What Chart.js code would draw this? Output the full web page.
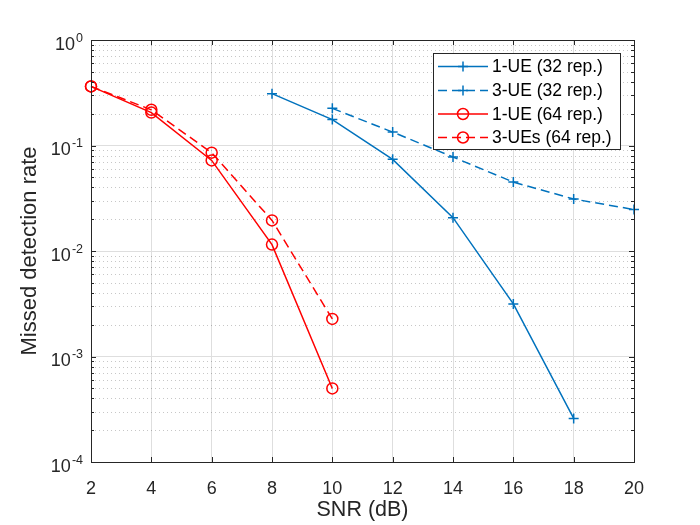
<!DOCTYPE html>
<html>
<head>
<meta charset="utf-8">
<script src="https://cdn.jsdelivr.net/npm/chart.js@4.4.1/dist/chart.umd.min.js"></script>
<style>
  html, body { margin: 0; padding: 0; background: #fff; }
</style>
</head>
<body>
<canvas id="chart" width="700" height="525"></canvas>
<script>
// values
const snr1ue32 = [8, 10, 12, 14, 16, 18];
const md1ue32 = [0.310, 0.176, 0.0739, 0.0207, 0.00315, 0.000259];
const snr3ue32 = [10, 12, 14, 16, 18, 20];
const md3ue32 = [0.225, 0.134, 0.0777, 0.045, 0.0311, 0.0247];
const snr64 = [2, 4, 6, 8, 10];
const md1ue64 = [0.363, 0.205, 0.0722, 0.0115, 0.000498];
const md3ue64 = [0.363, 0.218, 0.0855, 0.0195, 0.00227];

const seriesNames = ['1-UE (32 rep.)', '3-UE (32 rep.)', '1-UE (64 rep.)', '3-UEs (64 rep.)'];
const xTicks = [2, 4, 6, 8, 10, 12, 14, 16, 18, 20];
const yExponents = [0, -1, -2, -3, -4];

const BLUE = 'rgb(0,114,189)';
const RED = 'rgb(255,0,0)';
const AXIS = '#262626';
const DASH = [9, 5];
const FONT = '"Liberation Sans", Arial, sans-serif';

const pts = (xs, ys) => xs.map((x, i) => ({x, y: ys[i]}));

function isDecade(v) {
  const l = Math.log10(v);
  return Math.abs(l - Math.round(l)) < 1e-6;
}

const matlabAxes = {
  id: 'matlabAxes',
  beforeDatasetsDraw(chart) {
    const {ctx, chartArea: a, scales: {y}} = chart;
    ctx.save();
    ctx.strokeStyle = 'rgba(0,0,0,0.22)';
    ctx.lineWidth = 1;
    ctx.setLineDash([1, 3]);
    for (let e = -4; e < 0; e++) {
      for (let m = 2; m <= 9; m++) {
        const py = Math.round(y.getPixelForValue(m * Math.pow(10, e))) + 0.5;
        ctx.beginPath();
        ctx.moveTo(a.left, py);
        ctx.lineTo(a.right, py);
        ctx.stroke();
      }
    }
    ctx.restore();
  },
  afterDatasetsDraw(chart) {
    const {ctx, chartArea: a, scales: {x, y}} = chart;
    ctx.save();
    ctx.strokeStyle = AXIS;
    ctx.lineWidth = 1;
    ctx.strokeRect(Math.round(a.left) + 0.5, Math.round(a.top) + 0.5,
      Math.round(a.right - a.left), Math.round(a.bottom - a.top));

    // inward tick marks
    ctx.beginPath();
    xTicks.forEach(v => {
      const px = Math.round(x.getPixelForValue(v)) + 0.5;
      ctx.moveTo(px, a.bottom); ctx.lineTo(px, a.bottom - 5);
      ctx.moveTo(px, a.top); ctx.lineTo(px, a.top + 5);
    });
    for (let e = -4; e <= 0; e++) {
      for (let m = 1; m <= 9; m++) {
        const v = m * Math.pow(10, e);
        if (v > 1) break;
        const len = m === 1 ? 5 : 3;
        const py = Math.round(y.getPixelForValue(v)) + 0.5;
        ctx.moveTo(a.left, py); ctx.lineTo(a.left + len, py);
        ctx.moveTo(a.right, py); ctx.lineTo(a.right - len, py);
      }
    }
    ctx.stroke();

    // y tick labels 10^n
    ctx.fillStyle = AXIS;
    ctx.textAlign = 'right';
    ctx.textBaseline = 'alphabetic';
    yExponents.forEach(e => {
      const py = y.getPixelForValue(Math.pow(10, e));
      const right = a.left - 8;
      ctx.font = '12.5px ' + FONT;
      const exp = String(e);
      const ew = ctx.measureText(exp).width;
      ctx.fillText(exp, right, py + 1.5);
      ctx.font = '18px ' + FONT;
      ctx.fillText('10', right - ew - 1, py + 9.5);
    });

    // legend box
    const lx = 433, ly = 53, lw = 187, lh = 96;
    ctx.fillStyle = '#fff';
    ctx.fillRect(lx, ly, lw, lh);
    ctx.strokeStyle = AXIS;
    ctx.strokeRect(lx + 0.5, ly + 0.5, lw, lh);
    const rows = [66.5, 90.5, 114, 137.5];
    chart.data.datasets.forEach((ds, i) => {
      const ry = rows[i];
      ctx.save();
      ctx.strokeStyle = ds.borderColor;
      ctx.fillStyle = 'rgba(0,0,0,0)';
      ctx.lineWidth = ds.borderWidth;
      ctx.setLineDash(ds.borderDash || []);
      ctx.beginPath();
      ctx.moveTo(438, ry); ctx.lineTo(488, ry);
      ctx.stroke();
      ctx.setLineDash([]);
      ctx.lineWidth = ds.pointBorderWidth;
      Chart.helpers.drawPoint(ctx, {
        pointStyle: ds.pointStyle, radius: ds.pointRadius, borderWidth: ds.pointBorderWidth, rotation: 0
      }, 463, ry);
      ctx.restore();
      ctx.fillStyle = '#000';
      ctx.textAlign = 'left';
      ctx.textBaseline = 'middle';
      ctx.font = '17.5px ' + FONT;
      ctx.fillText(seriesNames[i], 492, ry + 1);
    });
    ctx.restore();
  }
};

function series(label, data, color, dashed, style) {
  return {
    label,
    data,
    borderColor: color,
    backgroundColor: 'transparent',
    borderWidth: 1.5,
    borderDash: dashed ? DASH : [],
    pointStyle: style,
    pointRadius: style === 'circle' ? 5.5 : 5,
    pointBorderWidth: 1.5,
    pointBorderColor: color,
    pointBackgroundColor: 'transparent',
    tension: 0,
    clip: false
  };
}

new Chart(document.getElementById('chart'), {
  type: 'line',
  data: {
    datasets: [
      series(seriesNames[0], pts(snr1ue32, md1ue32), BLUE, false, 'cross'),
      series(seriesNames[1], pts(snr3ue32, md3ue32), BLUE, true, 'cross'),
      series(seriesNames[2], pts(snr64, md1ue64), RED, false, 'circle'),
      series(seriesNames[3], pts(snr64, md3ue64), RED, true, 'circle')
    ]
  },
  options: {
    responsive: false,
    animation: false,
    devicePixelRatio: 1,
    layout: {padding: {left: 0, right: 66, top: 40, bottom: 0}},
    plugins: {legend: {display: false}, tooltip: {enabled: false}},
    scales: {
      x: {
        type: 'linear',
        min: 2,
        max: 20,
        afterBuildTicks: s => { s.ticks = xTicks.map(v => ({value: v})); },
        afterFit: s => { s.height = 63; },
        grid: {color: '#dedede', drawTicks: false},
        border: {color: AXIS},
        ticks: {
          padding: 16,
          color: AXIS,
          font: {family: FONT, size: 18}
        },
        title: {
          display: true,
          text: 'SNR (dB)',
          color: AXIS,
          padding: {top: 0, bottom: 2},
          font: {family: FONT, size: 21.5}
        }
      },
      y: {
        type: 'logarithmic',
        min: 1e-4,
        max: 1,
        afterFit: s => { s.width = 91; },
        grid: {
          drawTicks: false,
          color: c => (c.tick && isDecade(c.tick.value)) ? '#dedede' : 'rgba(0,0,0,0)'
        },
        border: {color: AXIS},
        ticks: {display: false, autoSkip: false},
        title: {
          display: true,
          text: 'Missed detection rate',
          color: AXIS,
          padding: {top: 17, bottom: 0},
          font: {family: FONT, size: 22}
        }
      }
    }
  },
  plugins: [matlabAxes]
});
</script>
</body>
</html>
